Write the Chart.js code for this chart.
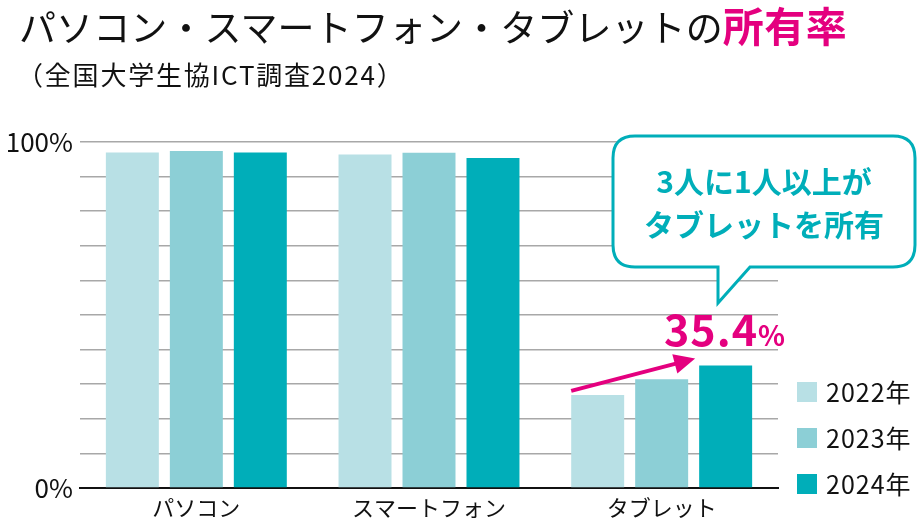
<!DOCTYPE html>
<html><head><meta charset="utf-8">
<script src="https://cdn.jsdelivr.net/npm/chart.js@4"></script>
<style>
html,body{margin:0;padding:0;background:#fff;}
#wrap{position:relative;width:919px;height:529px;font-family:"Noto Sans CJK JP","Noto Sans",sans-serif;}
canvas{position:absolute;left:0;top:0;}
.t{position:absolute;white-space:nowrap;color:#111;}
#title{left:19px;top:-6px;font-size:37px;font-weight:400;letter-spacing:0.1px;}
#title b{color:#e4007f;font-weight:700;font-size:41px;letter-spacing:0.5px;}
#sub{left:17px;top:55px;font-size:26px;letter-spacing:1.8px;}
#bubble{position:absolute;left:0;top:0;}
.bt{position:absolute;color:#00aeb9;font-weight:700;font-size:30px;width:302px;left:613px;text-align:center;}
#pct{left:664px;top:296px;color:#e4007f;font-weight:700;font-size:43px;letter-spacing:1px;}
#pct span{font-size:28px;}
.lg{position:absolute;left:797px;width:20px;height:20px;}
.lt{position:absolute;left:826px;font-size:25px;letter-spacing:1px;color:#111;}
</style></head>
<body>
<div id="wrap">
<canvas id="c" width="919" height="529"></canvas>
<svg id="bubble" width="919" height="529">
<path d="M635,136 H893 Q915,136 915,158 V245 Q915,267 893,267 H750 L718,303 V267 H635 Q613,267 613,245 V158 Q613,136 635,136 Z" fill="#fff" stroke="#00aeb9" stroke-width="3"/>
</svg>
<div class="t" id="title">パソコン・スマートフォン・タブレットの<b>所有率</b></div>
<div class="t" id="sub">（全国大学生協ICT調査2024）</div>
<div class="bt" style="top:158px;">3人に1人以上が</div>
<div class="bt" style="top:201px;">タブレットを所有</div>
<div class="t" id="pct">35.4<span>%</span></div>
<div id="legend"></div>
</div>
<script>
const categories = ['パソコン','スマートフォン','タブレット'];
const seriesLabels = ['2022年','2023年','2024年'];
const series2022 = [97.0, 96.4, 26.9];
const series2023 = [97.4, 96.9, 31.4];
const series2024 = [97.0, 95.4, 35.4];
const yTickLabels = {0:'0%',100:'100%'};
const colors = ['#b8e0e5','#8ccfd6','#00aeb9'];

const legend = document.getElementById('legend');
seriesLabels.forEach((l,i)=>{
  const cy = 392 + i*46;
  legend.insertAdjacentHTML('beforeend',
    `<div class="lg" style="top:${cy-10}px;background:${colors[i]}"></div><div class="lt" style="top:${cy-19}px">${l}</div>`);
});

const arrowPlugin = {
  id:'arrow',
  afterDatasetsDraw(chart){
    const a = chart.getDatasetMeta(0).data[2];
    const b = chart.getDatasetMeta(2).data[2];
    const x1 = a.x - a.width/2, y1 = a.y - 4;
    const x2 = b.x - b.width/2 - 4, y2 = b.y - 7;
    const ctx = chart.ctx;
    const ang = Math.atan2(y2-y1, x2-x1);
    const hl = 21, hw = 10;
    const bx = x2 - hl*Math.cos(ang), by = y2 - hl*Math.sin(ang);
    ctx.save();
    ctx.strokeStyle = '#e4007f'; ctx.fillStyle = '#e4007f'; ctx.lineWidth = 4;
    ctx.beginPath(); ctx.moveTo(x1,y1); ctx.lineTo(bx+2*Math.cos(ang),by+2*Math.sin(ang)); ctx.stroke();
    ctx.beginPath();
    ctx.moveTo(x2,y2);
    ctx.lineTo(bx - hw*Math.sin(ang), by + hw*Math.cos(ang));
    ctx.lineTo(bx + hw*Math.sin(ang), by - hw*Math.cos(ang));
    ctx.closePath(); ctx.fill();
    ctx.restore();
  }
};

new Chart(document.getElementById('c'), {
  type:'bar',
  data:{
    labels:categories,
    datasets:[
      {label:seriesLabels[0], data:series2022, backgroundColor:colors[0]},
      {label:seriesLabels[1], data:series2023, backgroundColor:colors[1]},
      {label:seriesLabels[2], data:series2024, backgroundColor:colors[2]}
    ]
  },
  options:{
    responsive:false, animation:false,
    layout:{padding:{left:0,top:142,right:141,bottom:0}},
    datasets:{bar:{categoryPercentage:0.825, barPercentage:0.828}},
    plugins:{legend:{display:false}, tooltip:{enabled:false}},
    scales:{
      x:{
        grid:{display:false, drawTicks:false},
        border:{display:true,color:'#111',width:2},
        ticks:{color:'#111',padding:6,font:{family:'"Noto Sans CJK JP"',size:22}},
        afterFit(s){s.height=41;}
      },
      y:{
        min:0,max:100,
        border:{display:false},
        grid:{drawTicks:false,color:'#a8a8a8',lineWidth:1.5},
        ticks:{stepSize:10,padding:7,color:'#111',autoSkip:false,
          font:{family:'"Noto Sans CJK JP"',size:26},
          callback:v=>yTickLabels[v]||''},
        afterFit(s){s.width=80;}
      }
    }
  },
  plugins:[arrowPlugin]
});
</script>
</body></html>
